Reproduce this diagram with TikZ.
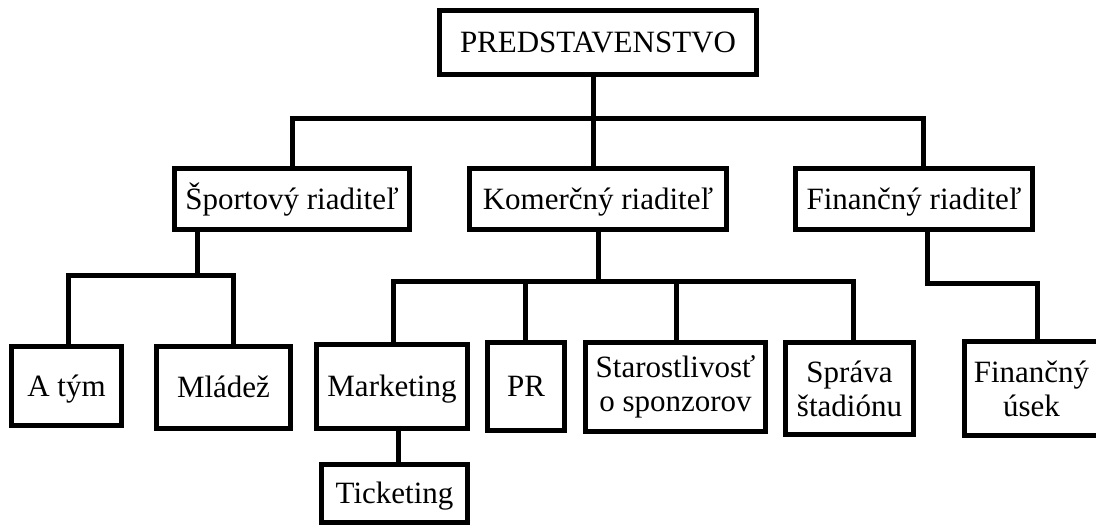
\documentclass[tikz,border=0pt]{standalone}
\usepackage{fontspec}
\setmainfont{Liberation Serif}
\begin{document}
\begin{tikzpicture}[x=1pt,y=-1pt,
  box/.style={draw=black,line width=5pt,inner sep=0pt,align=center,
    font=\fontsize{31}{34}\selectfont},
  oneline/.style={box,text height=20.5pt,text depth=0pt},
  conn/.style={draw=black,line width=5pt,line join=miter}]
\useasboundingbox (0,0) rectangle (1096,525);
% nodes
\node[oneline,minimum width=317pt,minimum height=64pt] (top) at (598,42.5) {PREDSTAVENSTVO};
\node[oneline,minimum width=235pt,minimum height=61pt] (sport) at (292,199) {Športový riaditeľ};
\node[oneline,minimum width=257pt,minimum height=61pt] (kom) at (598,199) {Komerčný riaditeľ};
\node[oneline,minimum width=237pt,minimum height=61pt] (fin) at (914,199) {Finančný riaditeľ};
\node[oneline,minimum width=110pt,minimum height=79pt] (atym) at (66.5,386) {A tým};
\node[oneline,minimum width=134pt,minimum height=82pt] (mladez) at (223.5,387.5) {Mládež};
\node[oneline,minimum width=151pt,minimum height=84pt] (mark) at (392,386.5) {Marketing};
\node[oneline,minimum width=146pt,minimum height=58pt] (tick) at (394.5,493.5) {Ticketing};
\node[oneline,minimum width=77pt,minimum height=88pt] (pr) at (526,386.5) {PR};
\node[box,minimum width=180pt,minimum height=89pt] (staro) at (675.5,387) {Starostlivosť\\o sponzorov};
\node[box,minimum width=128pt,minimum height=92pt] (sprava) at (849.5,388.5) {Správa\\štadiónu};
\node[box,minimum width=134pt,minimum height=94pt] (finusek) at (1031.5,388.5) {Finančný\\úsek};
% bus coordinates
\coordinate (busA) at (0,118);
\coordinate (busB) at (0,275);
\coordinate (busC) at (0,281);
\coordinate (busD) at (0,283);
% level 1
\draw[conn] ([xshift=-5pt]top.south) -- ([xshift=-5pt]top.south |- busA);
\draw[conn] (sport.north) |- ([xshift=9pt]fin.north |- busA) -- ([xshift=9pt]fin.north);
\draw[conn] ([xshift=-5pt]kom.north) -- ([xshift=-5pt]kom.north |- busA);
% sport subtree
\draw[conn] ([xshift=-95pt]sport.south) -- ([xshift=-95pt]sport.south |- busB);
\draw[conn] ([xshift=1.5pt]atym.north) |- ([xshift=9.5pt]mladez.north |- busB) -- ([xshift=9.5pt]mladez.north);
% commercial subtree
\draw[conn] (kom.south) -- (kom.south |- busC);
\draw[conn] ([xshift=1pt]mark.north) |- ([xshift=3.5pt]sprava.north |- busC) -- ([xshift=3.5pt]sprava.north);
\draw[conn] ([xshift=-1pt]pr.north) -- ([xshift=-1pt]pr.north |- busC);
\draw[conn] ([xshift=0.5pt]staro.north) -- ([xshift=0.5pt]staro.north |- busC);
\draw[conn] ([xshift=6pt]mark.south) -- ([xshift=3.5pt]tick.north);
% finance subtree
\draw[conn] ([xshift=13pt]fin.south) |- ([xshift=5.5pt]finusek.north |- busD) -- ([xshift=5.5pt]finusek.north);
\end{tikzpicture}
\end{document}
